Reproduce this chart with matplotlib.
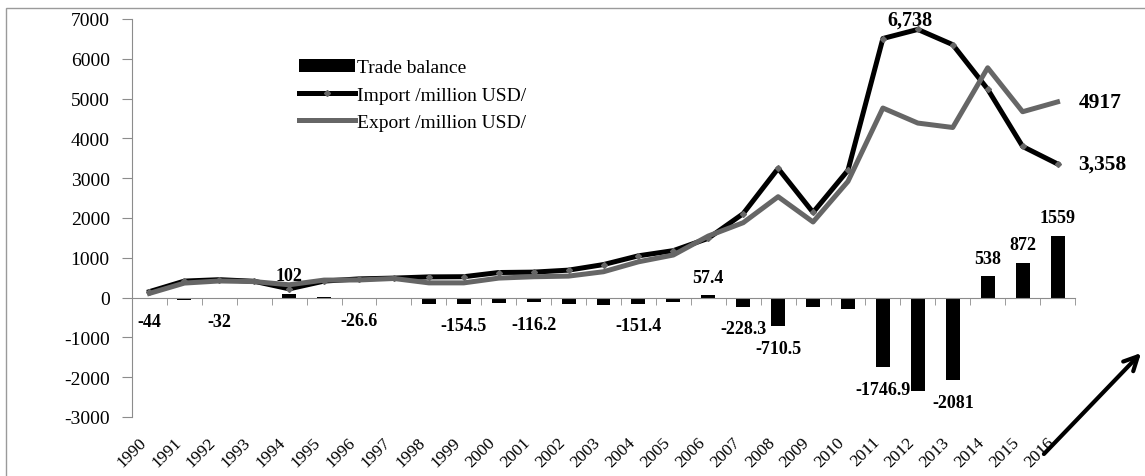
import matplotlib.pyplot as plt
import numpy as np
from matplotlib.patches import Rectangle

years = [str(y) for y in range(1990, 2017)]
imports = [150, 415, 450, 410, 220, 415, 470, 490, 520, 525, 630, 640, 690, 830,
           1050, 1180, 1490, 2110, 3245, 2140, 3200, 6510, 6738, 6355, 5236, 3798, 3358]
exports = [106, 365, 418, 402, 322, 440, 443, 480, 370, 370, 490, 524, 540, 650,
           899, 1070, 1547, 1882, 2535, 1900, 2920, 4763, 4385, 4274, 5774, 4670, 4917]
balance = [-44, -50, -32, -8, 102, 25, -26.6, -10, -150, -154.5, -140, -116.2, -150, -180,
           -151.4, -110, 57.4, -228.3, -710.5, -242, -284, -1746.9, -2353, -2081, 538, 872, 1559]
balance_labels = ['-44', '', '-32', '', '102', '', '-26.6', '', '', '-154.5', '', '-116.2', '', '',
                  '-151.4', '', '57.4', '-228.3', '-710.5', '', '', '-1746.9', '', '-2081', '538', '872', '1559']

plt.rcParams['font.family'] = ['Liberation Serif', 'DejaVu Serif']
plt.rcParams['font.size'] = 14
plt.rcParams['axes.unicode_minus'] = False

fig = plt.figure(figsize=(11.45, 4.77), dpi=100)
ax = fig.add_axes([132 / 1145, 1 - 418 / 477, (1075 - 132) / 1145, 398 / 477])

x = np.arange(len(years))
b = ax.bar(x, balance, width=0.4, color='black', label='Trade balance', zorder=2)
l1, = ax.plot(x, imports, color='black', lw=3.6, marker='D', markersize=3,
              markerfacecolor='#666666', markeredgecolor='#666666', label='Import /million USD/', zorder=3)
l2, = ax.plot(x, exports, color='#666666', lw=3.6, label='Export /million USD/', zorder=4)

# bar value labels
for i, (v, t) in enumerate(zip(balance, balance_labels)):
    if not t:
        continue
    dy = -16 if v < 0 else 13
    ax.annotate(t, (x[i], v), xytext=(0, dy), textcoords='offset points',
                ha='center', va='center', fontweight='bold', fontsize=13, zorder=5)

# line end / peak labels
i_peak = int(np.argmax(imports))
ax.annotate(f'{imports[i_peak]:,}', (x[i_peak], imports[i_peak]), xytext=(-6, 7),
            textcoords='offset points', ha='center', va='center', fontweight='bold', fontsize=14.5, zorder=5)
ax.annotate(f'{imports[-1]:,}', (x[-1], imports[-1]), xytext=(15, 0),
            textcoords='offset points', ha='left', va='center', fontweight='bold', fontsize=15.5)
ax.annotate(f'{exports[-1]}', (x[-1], exports[-1]), xytext=(15, 0),
            textcoords='offset points', ha='left', va='center', fontweight='bold', fontsize=15.5)

ax.set_xlim(-0.5, len(years) - 0.5)
ax.set_ylim(-3000, 7000)
ax.set_yticks(range(-3000, 7001, 1000))

for s in ['top', 'right']:
    ax.spines[s].set_visible(False)
ax.spines['left'].set_color('#8c8c8c')
ax.spines['bottom'].set_color('#8c8c8c')
ax.spines['bottom'].set_position(('data', 0))
ax.tick_params(axis='y', direction='out', length=7, color='#8c8c8c', labelsize=14, pad=9)

ax.set_xticks(x)
ax.set_xticklabels([])
ax.tick_params(axis='x', which='major', length=0)
ax.set_xticks(np.arange(len(years) + 1) - 0.5, minor=True)
ax.tick_params(axis='x', which='minor', direction='out', length=5, color='#8c8c8c')

sec = ax.secondary_xaxis('bottom')
sec.set_xticks(x)
sec.set_xticklabels(years, rotation=45, ha='right', fontsize=12.5)
sec.tick_params(length=0, pad=12)
sec.spines['bottom'].set_visible(False)

ax.legend([b, l1, l2], ['Trade balance', 'Import /million USD/', 'Export /million USD/'],
          loc='upper left', bbox_to_anchor=(157 / 943, 1 - 30 / 398), frameon=False,
          handlelength=2.9, handletextpad=0.1, labelspacing=0.5, fontsize=14, borderpad=0)

# outer chart border
fig.add_artist(Rectangle((6 / 1145, -0.1), 1.2, 1.1 - 9 / 477, transform=fig.transFigure,
                         fill=False, edgecolor='#9a9a9a', lw=1))

# arrow drawn on the figure
ax.annotate('', xy=(1143, 477 - 352), xycoords='figure pixels', xytext=(1042, 477 - 457),
            textcoords='figure pixels',
            arrowprops=dict(arrowstyle='->', lw=3, color='black', mutation_scale=25),
            annotation_clip=False)

fig.savefig('out.png', dpi=100)
